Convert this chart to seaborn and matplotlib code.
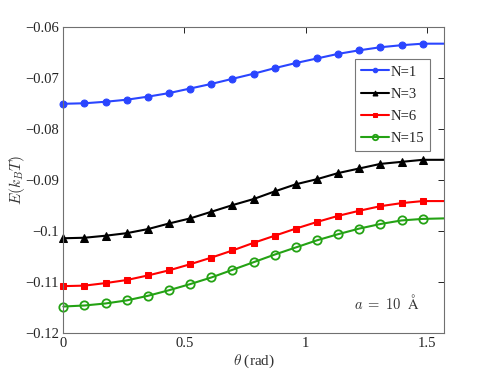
"""Interaction energy vs. angle for several N, MATLAB-style figure."""

import numpy as np
import matplotlib.pyplot as plt
import seaborn as sns

# ── data ──────────────────────────────────────────────────────────────────────
theta = np.linspace(0, np.pi / 2, 19)

e_n1 = [-0.0750, -0.0749, -0.0746, -0.0742, -0.0736, -0.0729, -0.0720, -0.0711,
        -0.0701, -0.0691, -0.0680, -0.0670, -0.0661, -0.0652, -0.0645, -0.0639,
        -0.0635, -0.0632, -0.0632]
e_n3 = [-0.1014, -0.1013, -0.1009, -0.1004, -0.0996, -0.0985, -0.0975, -0.0962,
        -0.0949, -0.0937, -0.0922, -0.0908, -0.0898, -0.0886, -0.0877, -0.0868,
        -0.0864, -0.0860, -0.0860]
e_n6 = [-0.1108, -0.1107, -0.1102, -0.1096, -0.1087, -0.1077, -0.1065, -0.1052,
        -0.1038, -0.1023, -0.1009, -0.0995, -0.0982, -0.0970, -0.0960, -0.0951,
        -0.0945, -0.0941, -0.0941]
e_n15 = [-0.1148, -0.1146, -0.1142, -0.1136, -0.1127, -0.1116, -0.1104, -0.1091,
         -0.1076, -0.1061, -0.1046, -0.1032, -0.1018, -0.1006, -0.0995, -0.0986,
         -0.0979, -0.0976, -0.0975]

labels = ["N=1", "N=3", "N=6", "N=15"]
series = [e_n1, e_n3, e_n6, e_n15]
colors = ["#2a45ff", "#000000", "#ff0000", "#24a214"]
marks = [dict(marker="o", markersize=5),
         dict(marker="^", markersize=5.5),
         dict(marker="s", markersize=4.2),
         dict(marker="o", markersize=6, markerfacecolor="none", markeredgewidth=1.3)]

# ── canvas ────────────────────────────────────────────────────────────────────
sns.set_theme(style="white")
plt.rcParams["font.family"] = ["Liberation Serif", "DejaVu Serif"]
plt.rcParams["mathtext.fontset"] = "cm"

fig = plt.figure(figsize=(4.91, 3.75), dpi=100, facecolor="white")
ax = fig.add_axes([0.129, 0.112, 0.775, 0.815])

for lab, vals, c, mk in zip(labels, series, colors, marks):
    kw = dict(mk)
    kw.setdefault("markerfacecolor", c)
    sns.lineplot(x=theta, y=vals, ax=ax, color=c, linewidth=1.5, label=lab,
                 markeredgecolor=c, markevery=slice(0, 18), clip_on=False, **kw)

ax.set_xlim(0, np.pi / 2)
ax.set_ylim(-0.12, -0.06)
ax.set_xticks([0, 0.5, 1, 1.5])
ax.set_xticklabels(["0", "0.5", "1", "1.5"])
ax.set_yticks([-0.12, -0.11, -0.1, -0.09, -0.08, -0.07, -0.06])
ax.set_yticklabels(["\u22120.12", "\u22120.11", "\u22120.1", "\u22120.09",
                    "\u22120.08", "\u22120.07", "\u22120.06"])
ax.tick_params(direction="in", length=4, width=0.7, top=True, right=True,
               labelsize=10.5, colors="#222222", pad=3)
for spine in ax.spines.values():
    spine.set_edgecolor("#707070")
    spine.set_linewidth(0.8)

ax.set_xlabel(r"$\theta$ (rad)", fontsize=11, color="#333333", labelpad=2)
ax.set_ylabel(r"$E(k_BT)$", fontsize=11, color="#333333", labelpad=-1)
ax.text(0.85, 0.10, r"$a$ $=$ $10$  $\mathrm{\AA}$", transform=ax.transAxes,
        fontsize=10.5, color="#333333", ha="center", va="center")

leg = ax.legend(loc="upper right", bbox_to_anchor=(0.963, 0.895), fontsize=10.5,
                frameon=True, fancybox=False, edgecolor="#555555",
                handlelength=1.9, handletextpad=0.1, borderpad=0.4,
                labelspacing=0.62, borderaxespad=0, markerscale=0.65)
leg.get_frame().set_linewidth(0.8)

fig.savefig("out.png", dpi=100, facecolor=fig.get_facecolor())
